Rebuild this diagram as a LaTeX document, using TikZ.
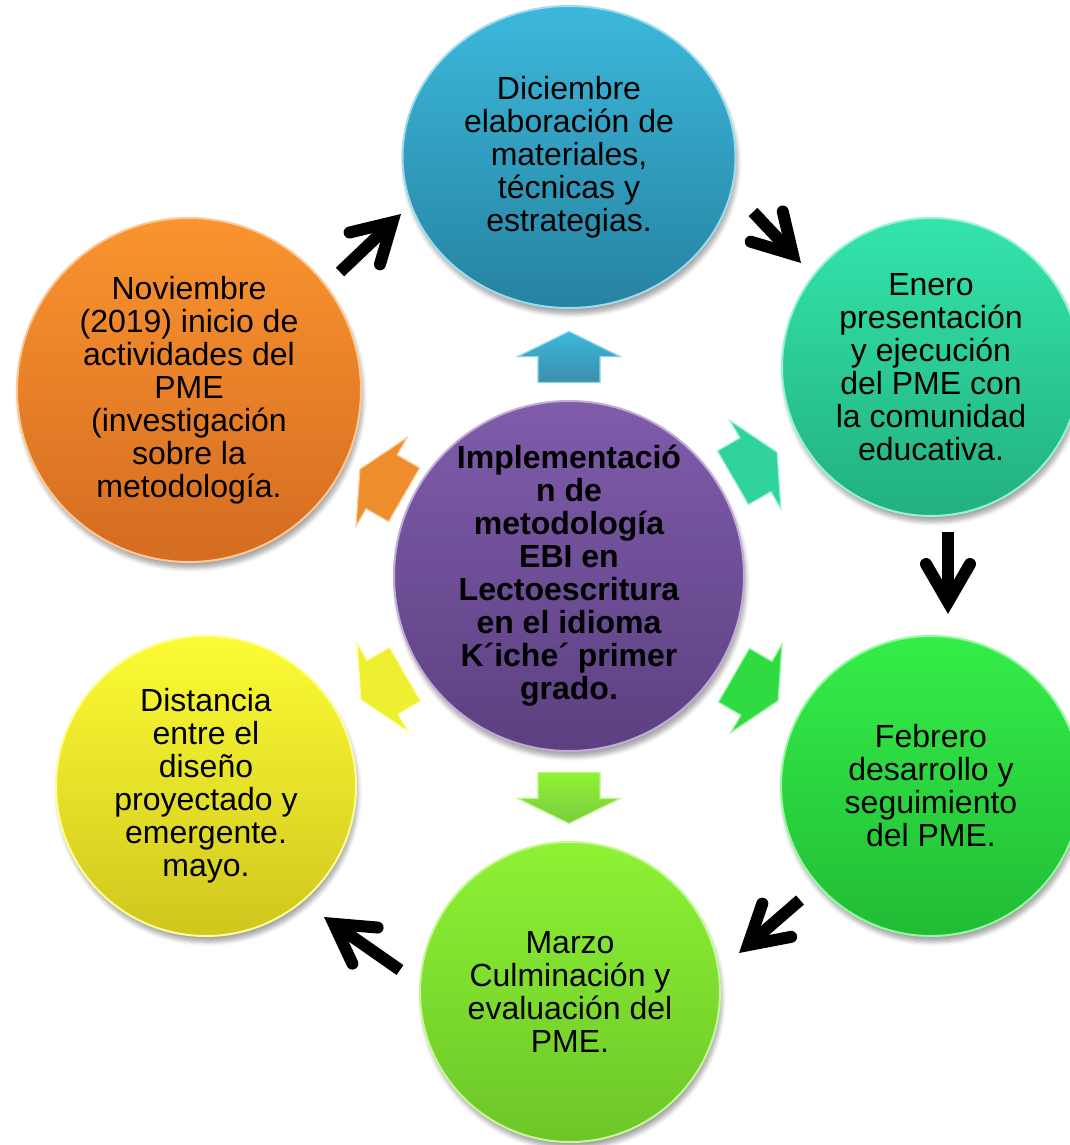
\documentclass[tikz,border=0pt]{standalone}
\usepackage{fontspec}
\setmainfont{Liberation Sans}
\usetikzlibrary{arrows.meta,shapes.geometric,shadows.blur}
\definecolor{bluetop}{RGB}{60,184,220}\definecolor{bluebot}{RGB}{38,130,160}
\definecolor{tealtop}{RGB}{52,228,172}\definecolor{tealbot}{RGB}{34,176,128}
\definecolor{greentop}{RGB}{52,238,72}\definecolor{greenbot}{RGB}{34,188,54}
\definecolor{limetop}{RGB}{142,242,52}\definecolor{limebot}{RGB}{108,198,40}
\definecolor{yellowtop}{RGB}{252,252,52}\definecolor{yellowbot}{RGB}{208,198,30}
\definecolor{orangetop}{RGB}{250,148,46}\definecolor{orangebot}{RGB}{212,108,34}
\definecolor{purpletop}{RGB}{128,92,172}\definecolor{purplebot}{RGB}{92,64,128}
\begin{document}
\begin{tikzpicture}[x=0.5pt,y=-0.5pt,
  bubble/.style={circle, inner sep=0pt, align=center,
    font=\fontsize{16}{16.5}\selectfont, text=black,
    blur shadow={shadow xshift=1pt, shadow yshift=-3pt, shadow blur steps=6, shadow opacity=35}},
  flow/.style={line width=6pt, line cap=butt,
    -{Straight Barb[length=19pt,width=22pt,line cap=round,line join=miter]}},
  blockarrow/.pic={\path[pic actions] (25.5,0) -- (0.5,51) -- (0.5,31) -- (-25.5,31)
     -- (-25.5,-31) -- (0.5,-31) -- (0.5,-51) -- cycle;},
  barrow/.style={blur shadow={shadow xshift=1pt, shadow yshift=-2pt, shadow blur steps=4, shadow opacity=25}}
]
\useasboundingbox (0,0) rectangle (1070,1145);

% outer bubbles
\node[bubble, ellipse, minimum width=166.5pt, minimum height=151pt,
  top color=bluetop, bottom color=bluebot, draw=bluetop!50!white, line width=1pt]
  (dic) at (569,157) {Diciembre\\elaboración de\\materiales,\\técnicas y\\estrategias.};
\node[bubble, minimum size=149pt, top color=tealtop, bottom color=tealbot,
  draw=tealtop!50!white, line width=1pt]
  (ene) at (931,367) {Enero\\presentación\\y ejecución\\del PME con\\la comunidad\\educativa.};
\node[bubble, minimum size=150pt, top color=greentop, bottom color=greenbot,
  draw=greentop!50!white, line width=1pt]
  (feb) at (931,786) {Febrero\\desarrollo y\\seguimiento\\del PME.};
\node[bubble, minimum size=150pt, top color=limetop, bottom color=limebot,
  draw=limetop!50!white, line width=1pt]
  (mar) at (570,992) {Marzo\\Culminación y\\evaluación del\\PME.};
\node[bubble, minimum size=150pt, top color=yellowtop, bottom color=yellowbot,
  draw=yellowtop!50!white, line width=1pt]
  (may) at (206,786) {Distancia\\entre el\\diseño\\proyectado y\\emergente.\\mayo.};
\node[bubble, minimum size=172pt, top color=orangetop, bottom color=orangebot,
  draw=orangetop!50!white, line width=1pt]
  (nov) at (189,390) {Noviembre\\(2019) inicio de\\actividades del\\PME\\(investigación\\sobre la\\metodología.};

% center
\node[bubble, minimum size=175pt, top color=purpletop, bottom color=purplebot,
  draw=purpletop!50!white, line width=1pt, font=\fontsize{16}{16.5}\selectfont\bfseries]
  (cen) at (569,576) {Implementació\\n de\\metodología\\EBI en\\Lectoescritura\\en el idioma\\K´iche´ primer\\grado.};

% block arrows
\pic[barrow, rotate=90, top color=bluetop, bottom color=bluebot!90!white, draw=bluetop!60!white, line width=0.6pt] at (569,357) {blockarrow};
\pic[barrow, rotate=30, fill=tealtop!92!black, draw=tealtop!50!white, line width=0.6pt] at (755,465) {blockarrow};
\pic[barrow, rotate=-30, fill=greentop!92!black, draw=greentop!50!white, line width=0.6pt] at (756,688) {blockarrow};
\pic[barrow, rotate=-90, top color=limetop, bottom color=limebot!90!white, draw=limetop!60!white, line width=0.6pt] at (569,798) {blockarrow};
\pic[barrow, rotate=210, fill=yellowtop!95!black, draw=yellowtop!50!white, line width=0.6pt] at (383,687) {blockarrow};
\pic[barrow, rotate=150, fill=orangetop!95!black, draw=orangetop!50!white, line width=0.6pt] at (382,482) {blockarrow};

% black cycle arrows
\coordinate (a1s) at (340,272); \coordinate (a1e) at (401,214);
\coordinate (a2s) at (753,212); \coordinate (a2e) at (801,263);
\coordinate (a3s) at (948,532); \coordinate (a3e) at (948,614);
\coordinate (a4s) at (800,900); \coordinate (a4e) at (739,953);
\coordinate (a5s) at (400,970); \coordinate (a5e) at (324,917);
\draw[flow] (a1s) -- (a1e);
\draw[flow] (a2s) -- (a2e);
\draw[flow] (a3s) -- (a3e);
\draw[flow] (a4s) -- (a4e);
\draw[flow] (a5s) -- (a5e);
\end{tikzpicture}
\end{document}
